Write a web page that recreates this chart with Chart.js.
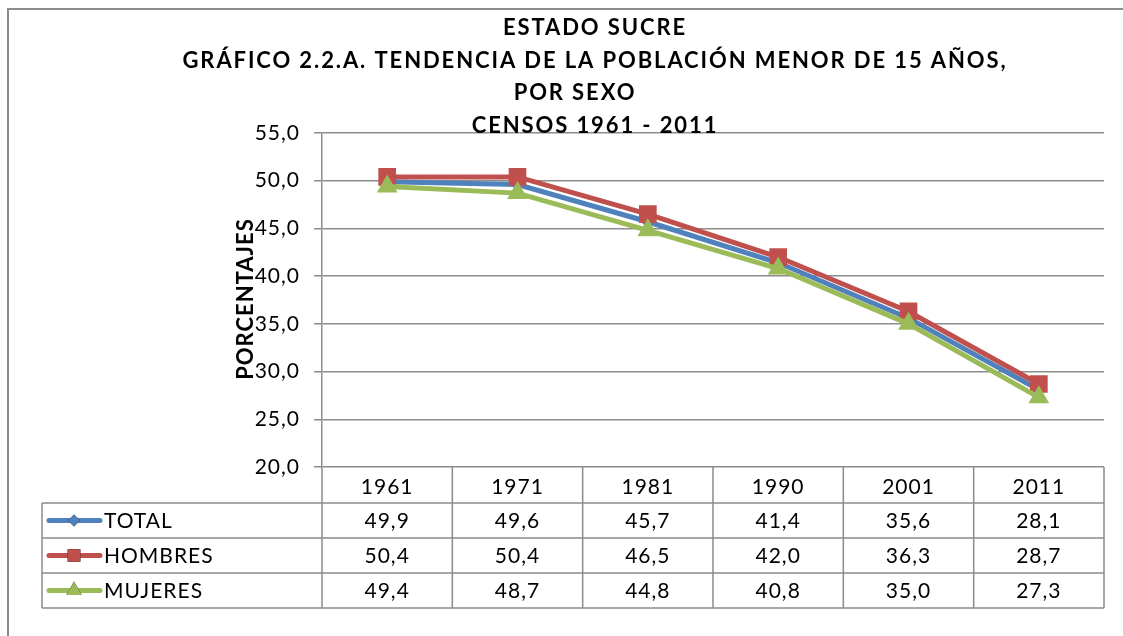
<!DOCTYPE html>
<html>
<head>
<meta charset="utf-8">
<script src="https://cdn.jsdelivr.net/npm/chart.js@4/dist/chart.umd.min.js"></script>
<style>
  body { margin: 0; background: #fff; }
  canvas { display: block; }
</style>
</head>
<body>
<canvas id="chart" width="1123" height="636"></canvas>
<script>
const years = ['1961', '1971', '1981', '1990', '2001', '2011'];
const total = [49.9, 49.6, 45.7, 41.4, 35.6, 28.1];
const hombres = [50.4, 50.4, 46.5, 42.0, 36.3, 28.7];
const mujeres = [49.4, 48.7, 44.8, 40.8, 35.0, 27.3];
const seriesNames = ['TOTAL', 'HOMBRES', 'MUJERES'];
const titleLines = ['ESTADO SUCRE', 'GRÁFICO 2.2.A. TENDENCIA DE LA POBLACIÓN MENOR DE 15 AÑOS,', 'POR SEXO', 'CENSOS 1961 - 2011'];
const yAxisTitle = 'PORCENTAJES';

const FONT = 'Lato, "Open Sans", sans-serif';
const GRID = '#8c8c8c';
const colors = ['#4f81bd', '#c0504d', '#9bbb59'];
const styles = ['rectRot', 'rect', 'triangle'];
const radii = [7, 12.5, 12];

function fmt(v) {
  return v.toFixed(1).replace('.', ',');
}

function drawMarker(ctx, style, x, y, r, color) {
  Chart.helpers.drawPoint(ctx, {pointStyle: style, radius: r, rotation: 0, borderWidth: 0}, x, y);
  ctx.fillStyle = color;
  ctx.fill();
}

const decor = {
  id: 'decor',
  beforeDraw(chart) {
    const ctx = chart.ctx;
    ctx.save();
    ctx.fillStyle = '#fff';
    ctx.fillRect(0, 0, chart.width, chart.height);
    ctx.strokeStyle = GRID;
    ctx.lineWidth = 2;
    ctx.beginPath();
    ctx.moveTo(8, chart.height);
    ctx.lineTo(8, 9);
    ctx.lineTo(chart.width, 9);
    ctx.stroke();
    ctx.restore();
    ctx.letterSpacing = '1px';
  },
  afterDraw(chart) {
    const ctx = chart.ctx;
    const x = chart.scales.x;
    const area = chart.chartArea;
    ctx.save();

    // title
    ctx.fillStyle = '#000';
    ctx.font = 'bold 22px ' + FONT;
    ctx.letterSpacing = '1.9px';
    ctx.textAlign = 'center';
    ctx.textBaseline = 'middle';
    const tx = [595, 595, 575, 595];
    titleLines.forEach((t, i) => ctx.fillText(t, tx[i], 28 + i * 32.5));

    // y axis title
    ctx.letterSpacing = '1px';
    ctx.save();
    ctx.translate(246, 299);
    ctx.rotate(-Math.PI / 2);
    ctx.fillText(yAxisTitle, 0, 0);
    ctx.restore();

    // data table
    const step = (area.right - area.left) / years.length;
    const rowH = 35;
    const top = area.bottom;
    const rowsTop = top + 36;
    const tableLeft = 42;
    ctx.strokeStyle = GRID;
    ctx.lineWidth = 1.5;
    ctx.beginPath();
    for (let i = 0; i <= years.length; i++) {
      const bx = area.left + i * step;
      ctx.moveTo(bx, top);
      ctx.lineTo(bx, rowsTop + rowH * 3);
    }
    for (let r = 0; r <= 3; r++) {
      ctx.moveTo(tableLeft, rowsTop + r * rowH);
      ctx.lineTo(area.right, rowsTop + r * rowH);
    }
    ctx.moveTo(tableLeft, rowsTop);
    ctx.lineTo(tableLeft, rowsTop + rowH * 3);
    ctx.stroke();

    const data = [total, hombres, mujeres];
    ctx.font = '21px ' + FONT;
    data.forEach((vals, r) => {
      const cy = rowsTop + r * rowH + rowH / 2;
      // legend key
      ctx.strokeStyle = colors[r];
      ctx.lineWidth = 5;
      ctx.lineCap = 'round';
      ctx.beginPath();
      ctx.moveTo(49, cy);
      ctx.lineTo(100, cy);
      ctx.stroke();
      drawMarker(ctx, styles[r], 74, cy, r === 0 ? 6 : 9, colors[r]);
      ctx.fillStyle = '#000';
      ctx.textAlign = 'left';
      ctx.fillText(seriesNames[r], 104, cy + 1);
      ctx.textAlign = 'center';
      vals.forEach((v, i) => ctx.fillText(fmt(v), x.getPixelForValue(i), cy + 1));
    });
    ctx.restore();
  }
};

new Chart(document.getElementById('chart'), {
  type: 'line',
  data: {
    labels: years,
    datasets: [total, hombres, mujeres].map((d, i) => ({
      label: seriesNames[i],
      data: d,
      borderColor: colors[i],
      backgroundColor: colors[i],
      borderWidth: 5,
      pointStyle: styles[i],
      pointRadius: radii[i],
      pointHoverRadius: radii[i],
      pointBorderWidth: 0,
      tension: 0,
      order: 3 - i
    }))
  },
  options: {
    responsive: false,
    animation: false,
    layout: {padding: {left: 200, right: 19, top: 133, bottom: 0}},
    plugins: {
      legend: {display: false},
      title: {display: false},
      tooltip: {enabled: false}
    },
    scales: {
      x: {
        offset: true,
        grid: {display: false, drawTicks: false},
        border: {display: false},
        ticks: {font: {family: FONT, size: 21}, color: '#000', padding: 8},
        afterFit(s) { s.height = 169; }
      },
      y: {
        min: 20,
        max: 55,
        ticks: {
          stepSize: 5,
          font: {family: FONT, size: 21},
          color: '#000',
          padding: 14,
          callback: (v) => fmt(v)
        },
        grid: {color: GRID, lineWidth: 1.5, tickLength: 8},
        border: {color: GRID, width: 1.5},
        afterFit(s) { s.width = 122; }
      }
    }
  },
  plugins: [decor]
});
</script>
</body>
</html>
